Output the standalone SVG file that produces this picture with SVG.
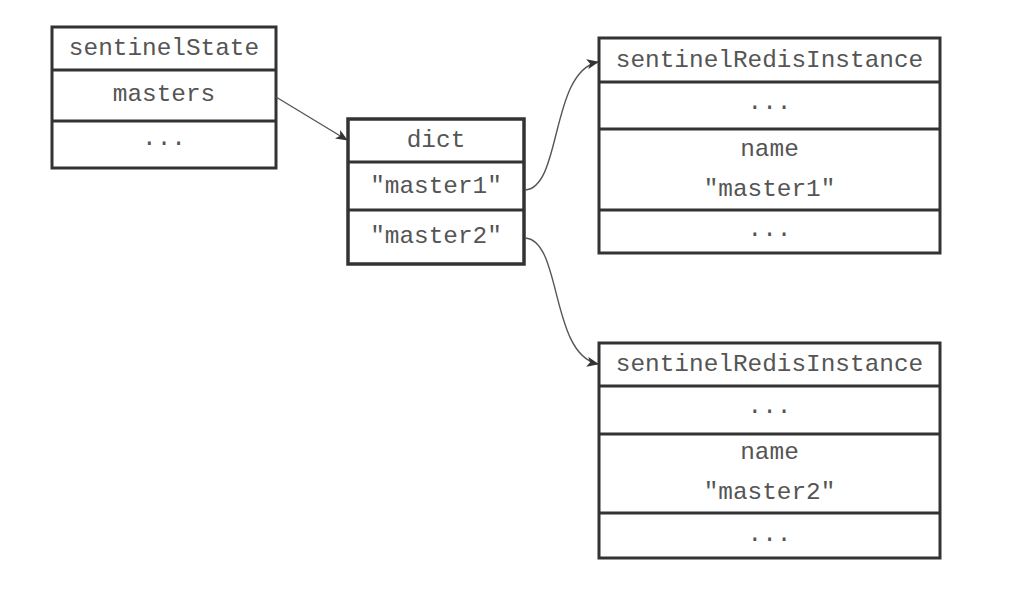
<svg xmlns="http://www.w3.org/2000/svg" width="1036" height="600" viewBox="0 0 1036 600">
<style>
.box{fill:#fff;stroke:#333;stroke-width:3}
.div{stroke:#333;stroke-width:3}
.t{font-family:"Liberation Mono","Courier New",monospace;font-size:24.4px;fill:#555;text-anchor:middle}
.c{fill:none;stroke:#555;stroke-width:1.4}
</style>
<defs>
<marker id="ah" viewBox="0 0 12 10" refX="11" refY="5" markerWidth="12" markerHeight="10" markerUnits="userSpaceOnUse" orient="auto">
<path d="M0,0 L12,5 L0,10 L3,5 Z" fill="#333"/>
</marker>
</defs>
<rect width="1036" height="600" fill="#fff"/>
<g id="sentinelState">
<rect class="box" x="52" y="27" width="224" height="141"/>
<line class="div" x1="52" y1="70" x2="276" y2="70"/>
<line class="div" x1="52" y1="121" x2="276" y2="121"/>
<text class="t" x="164" y="55">sentinelState</text>
<text class="t" x="164" y="101">masters</text>
<text class="t" x="164" y="145">...</text>
</g>
<g id="dict">
<rect class="box" x="348" y="119" width="176" height="145" style="stroke-width:3.5"/>
<line class="div" x1="348" y1="162" x2="524" y2="162"/>
<line class="div" x1="348" y1="210" x2="524" y2="210"/>
<text class="t" x="436" y="147">dict</text>
<text class="t" x="436" y="193">"master1"</text>
<text class="t" x="436" y="243">"master2"</text>
</g>
<g id="instance1">
<rect class="box" x="599" y="38" width="341" height="215"/>
<line class="div" x1="599" y1="82" x2="940" y2="82"/>
<line class="div" x1="599" y1="129" x2="940" y2="129"/>
<line class="div" x1="599" y1="210" x2="940" y2="210"/>
<text class="t" x="769.5" y="67">sentinelRedisInstance</text>
<text class="t" x="769.5" y="109">...</text>
<text class="t" x="769.5" y="156">name</text>
<text class="t" x="769.5" y="196">"master1"</text>
<text class="t" x="769.5" y="236">...</text>
</g>
<g id="instance2">
<rect class="box" x="599" y="343" width="341" height="215"/>
<line class="div" x1="599" y1="386" x2="940" y2="386"/>
<line class="div" x1="599" y1="434" x2="940" y2="434"/>
<line class="div" x1="599" y1="513" x2="940" y2="513"/>
<text class="t" x="769.5" y="371">sentinelRedisInstance</text>
<text class="t" x="769.5" y="413">...</text>
<text class="t" x="769.5" y="459">name</text>
<text class="t" x="769.5" y="499">"master2"</text>
<text class="t" x="769.5" y="541">...</text>
</g>
<g id="connectors">
<path class="c" d="M276,97 L347,140" marker-end="url(#ah)"/>
<path class="c" d="M525,190 C562,188 550,72 598,62" marker-end="url(#ah)"/>
<path class="c" d="M525,238 C562,240 550,354 598,364" marker-end="url(#ah)"/>
</g>
</svg>
